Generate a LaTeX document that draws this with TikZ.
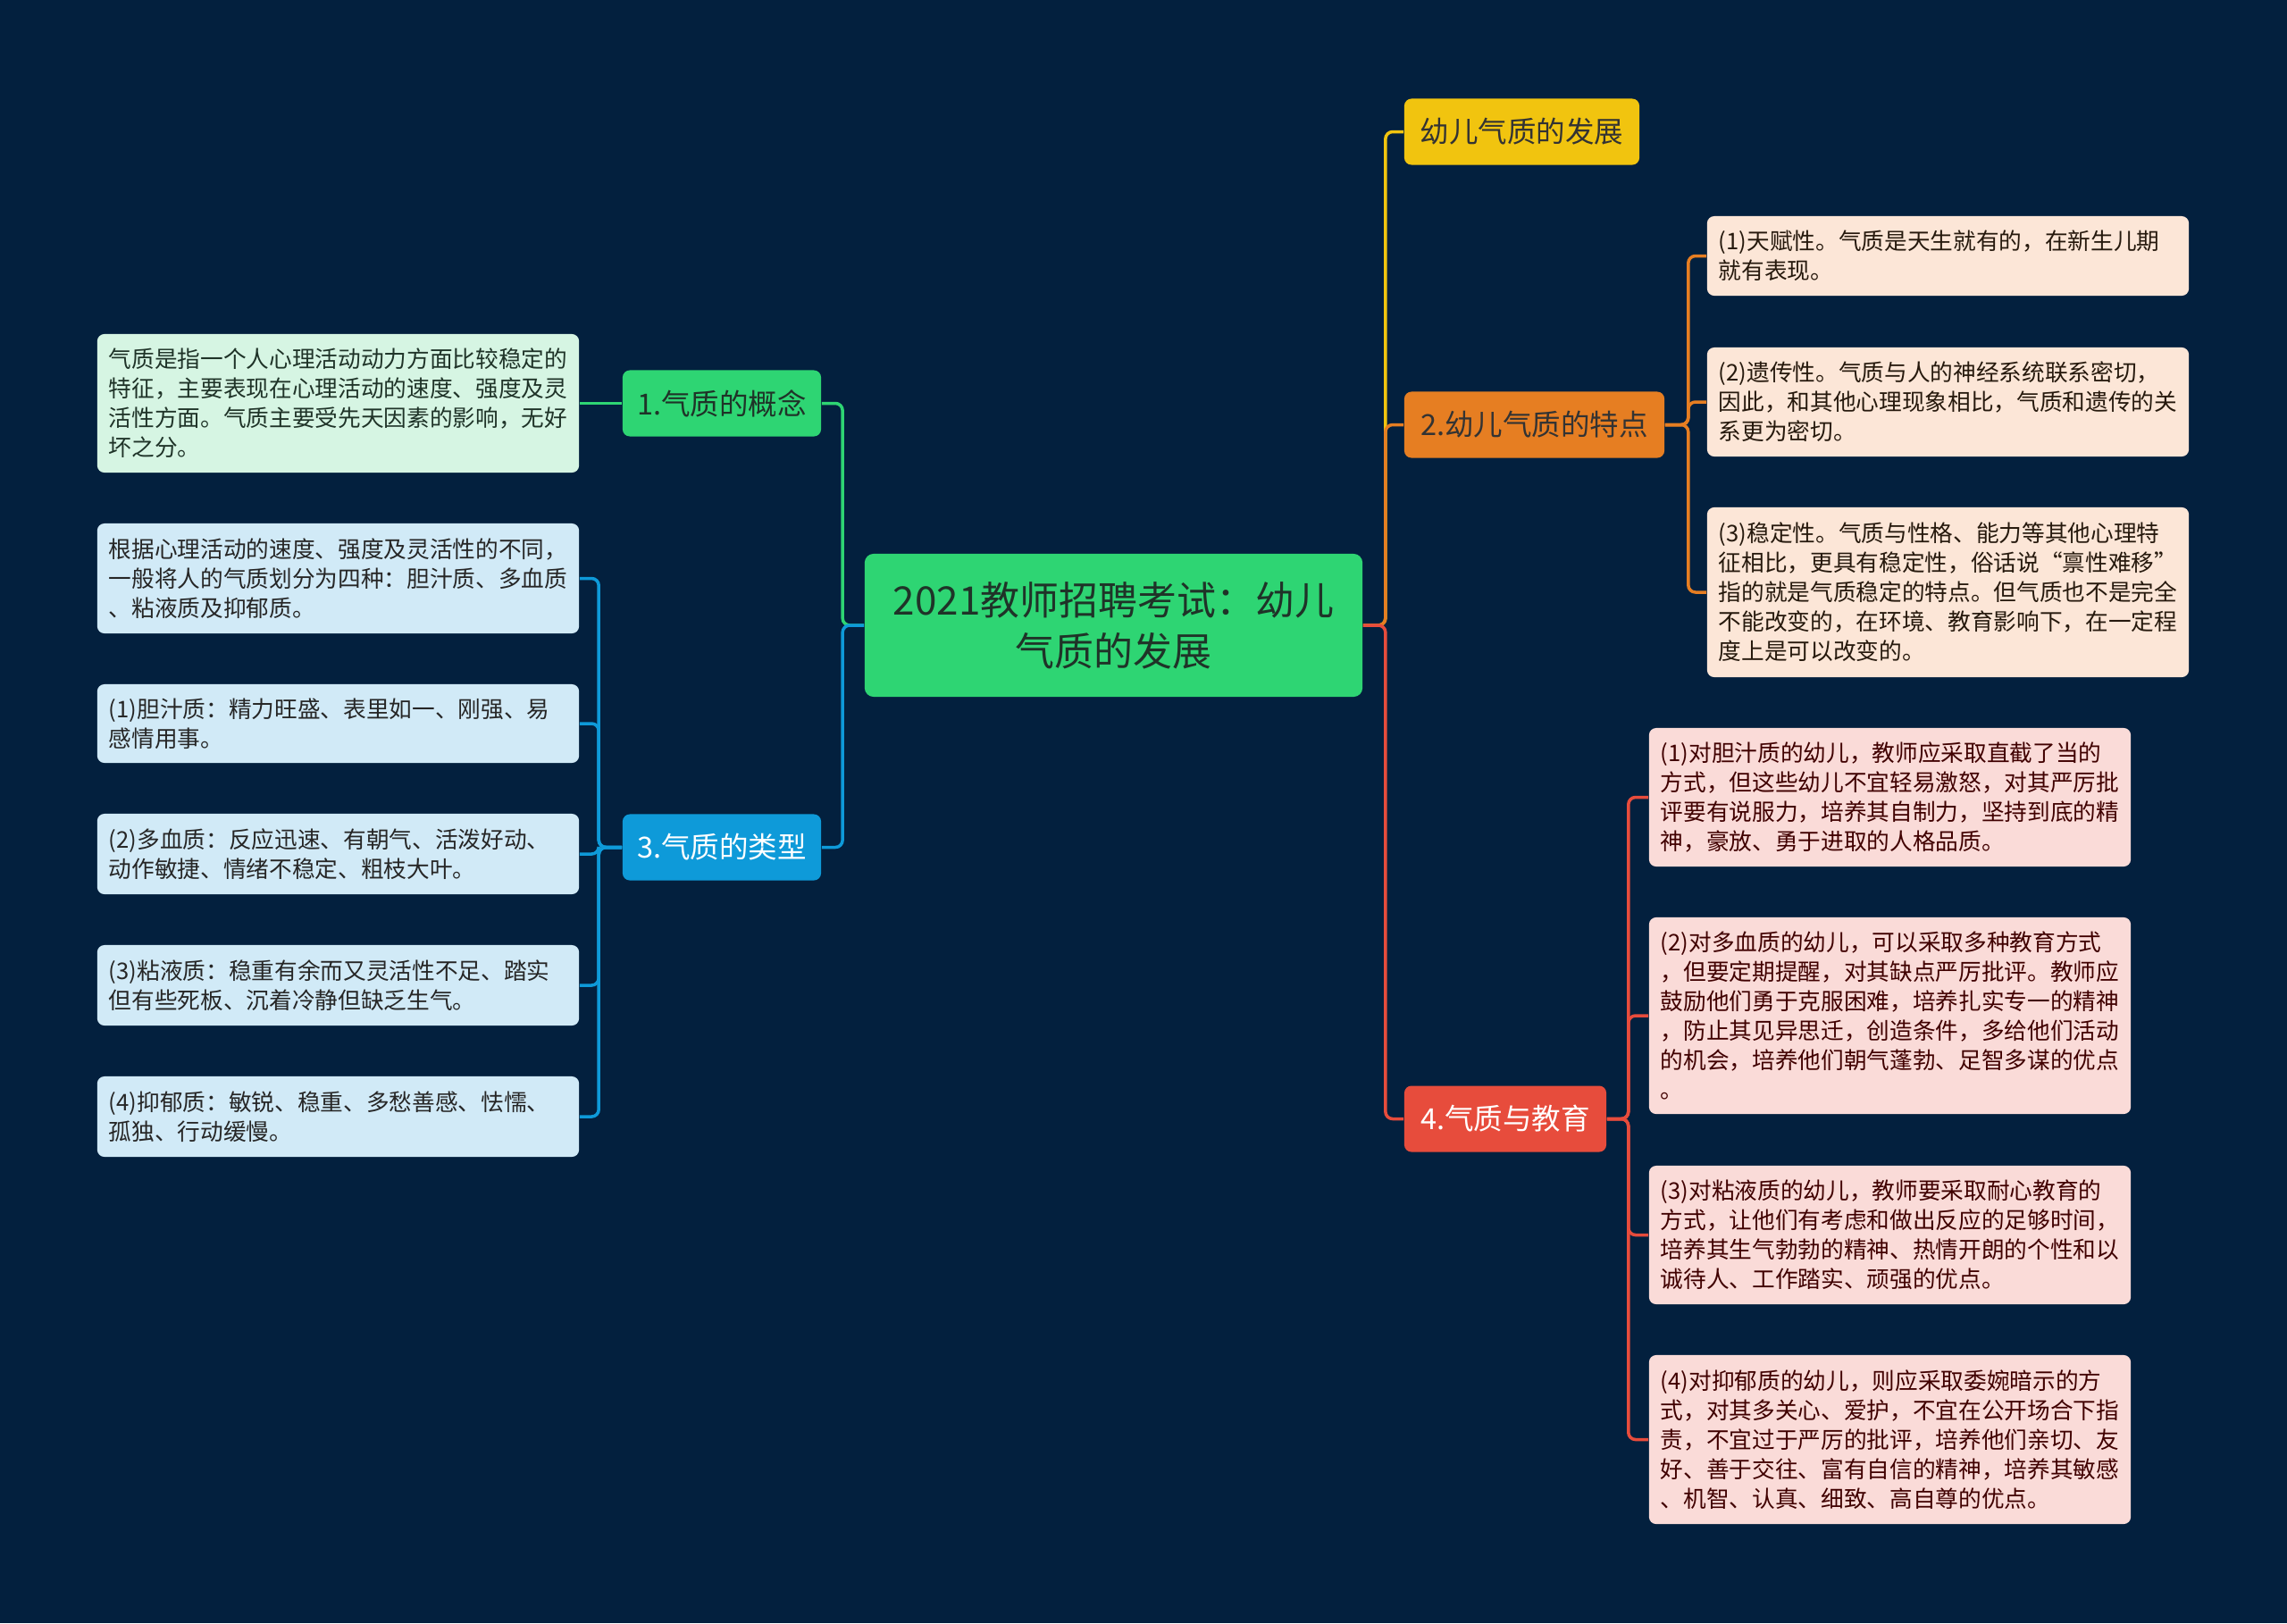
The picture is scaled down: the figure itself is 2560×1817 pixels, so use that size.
\documentclass[tikz,border=0pt]{standalone}
\usepackage{fontspec}
\setmainfont{Noto Sans CJK SC}
\usetikzlibrary{positioning,calc}
\definecolor{bgnavy}{HTML}{03203E}
\definecolor{rootgreen}{HTML}{2ED573}
\definecolor{topblue}{HTML}{0E9AD9}
\definecolor{topyellow}{HTML}{F1C40F}
\definecolor{toporange}{HTML}{E67E22}
\definecolor{topred}{HTML}{E74C3C}
\definecolor{leafgreen}{HTML}{D6F5E3}
\definecolor{leafblue}{HTML}{D1EAF7}
\definecolor{leafpeach}{HTML}{FCE6D7}
\definecolor{leafpink}{HTML}{FADBD8}
\definecolor{inkdark}{HTML}{1F3328}

\begin{document}
\begin{tikzpicture}[x=0.01cm,y=-0.01cm,
  rootbox/.style={fill=rootgreen,rounded corners=0.1cm,align=center,text=inkdark,
    minimum width=5.57cm,minimum height=1.6cm,
    font=\fontsize{12.5pt}{16.2pt}\selectfont},
  topbox/.style={rounded corners=0.08cm,align=center,minimum height=0.74cm,
    inner xsep=0.1cm,font=\fontsize{9.25pt}{11pt}\selectfont},
  leafbox/.style={rounded corners=0.08cm,align=left,text width=5.13cm,
    inner xsep=0.13cm,inner ysep=0.1cm,
    font=\fontsize{7.3pt}{9.4pt}\selectfont},
  link/.style={line width=1pt,rounded corners=0.08cm}]

  \fill[bgnavy] (0,0) rectangle (2560,1817);
  \useasboundingbox (0,0) rectangle (2560,1817);

  % Root
  \node[rootbox] (root) at (1246.5,700) {2021教师招聘考试：幼儿\\气质的发展};

  % Main branches
  \node[topbox,fill=rootgreen,text=inkdark,minimum width=2.22cm] (con) at (808,451.5) {1.气质的概念};
  \node[topbox,fill=topblue,text=white,minimum width=2.22cm] (typ) at (808,948.5) {3.气质的类型};
  \node[topbox,fill=topyellow,text=black!80,minimum width=2.63cm] (dev) at (1703.5,147.5) {幼儿气质的发展};
  \node[topbox,fill=toporange,text=black!80,minimum width=2.91cm] (feat) at (1717.5,475.5) {2.幼儿气质的特点};
  \node[topbox,fill=topred,text=white,minimum width=2.26cm] (edu) at (1685,1252.5) {4.气质与教育};

  % Concept leaf
  \node[leafbox,fill=leafgreen,text=inkdark,minimum height=1.55cm] (def) at (378.5,451.5)
    {气质是指一个人心理活动动力方面比较稳定的\\特征，主要表现在心理活动的速度、强度及灵\\活性方面。气质主要受先天因素的影响，无好\\坏之分。};

  % Type leaves
  \node[leafbox,fill=leafblue,text=black!85,minimum height=1.23cm] (t0) at (378.5,647.5)
    {根据心理活动的速度、强度及灵活性的不同，\\一般将人的气质划分为四种：胆汁质、多血质\\、粘液质及抑郁质。};
  \node[leafbox,fill=leafblue,text=black!85,minimum height=0.88cm] (t1) at (378.5,810)
    {(1)胆汁质：精力旺盛、表里如一、刚强、易\\感情用事。};
  \node[leafbox,fill=leafblue,text=black!85,minimum height=0.9cm] (t2) at (378.5,956)
    {(2)多血质：反应迅速、有朝气、活泼好动、\\动作敏捷、情绪不稳定、粗枝大叶。};
  \node[leafbox,fill=leafblue,text=black!85,minimum height=0.9cm] (t3) at (378.5,1103)
    {(3)粘液质：稳重有余而又灵活性不足、踏实\\但有些死板、沉着冷静但缺乏生气。};
  \node[leafbox,fill=leafblue,text=black!85,minimum height=0.9cm] (t4) at (378.5,1250)
    {(4)抑郁质：敏锐、稳重、多愁善感、怯懦、\\孤独、行动缓慢。};

  % Feature leaves
  \node[leafbox,fill=leafpeach,text=black!80!brown,minimum height=0.89cm] (f1) at (2180.5,286.5)
    {(1)天赋性。气质是天生就有的，在新生儿期\\就有表现。};
  \node[leafbox,fill=leafpeach,text=black!80!brown,minimum height=1.22cm] (f2) at (2180.5,450)
    {(2)遗传性。气质与人的神经系统联系密切，\\因此，和其他心理现象相比，气质和遗传的关\\系更为密切。};
  \node[leafbox,fill=leafpeach,text=black!80!brown,minimum height=1.9cm] (f3) at (2180.5,663)
    {(3)稳定性。气质与性格、能力等其他心理特\\征相比，更具有稳定性，俗话说“禀性难移”\\指的就是气质稳定的特点。但气质也不是完全\\不能改变的，在环境、教育影响下，在一定程\\度上是可以改变的。};

  % Education leaves
  \node[leafbox,fill=leafpink,text=black!75!red,minimum height=1.55cm] (e1) at (2115.5,892.5)
    {(1)对胆汁质的幼儿，教师应采取直截了当的\\方式，但这些幼儿不宜轻易激怒，对其严厉批\\评要有说服力，培养其自制力，坚持到底的精\\神，豪放、勇于进取的人格品质。};
  \node[leafbox,fill=leafpink,text=black!75!red,minimum height=2.2cm] (e2) at (2115.5,1137)
    {(2)对多血质的幼儿，可以采取多种教育方式\\，但要定期提醒，对其缺点严厉批评。教师应\\鼓励他们勇于克服困难，培养扎实专一的精神\\，防止其见异思迁，创造条件，多给他们活动\\的机会，培养他们朝气蓬勃、足智多谋的优点\\。};
  \node[leafbox,fill=leafpink,text=black!75!red,minimum height=1.55cm] (e3) at (2115.5,1382.5)
    {(3)对粘液质的幼儿，教师要采取耐心教育的\\方式，让他们有考虑和做出反应的足够时间，\\培养其生气勃勃的精神、热情开朗的个性和以\\诚待人、工作踏实、顽强的优点。};
  \node[leafbox,fill=leafpink,text=black!75!red,minimum height=1.89cm] (e4) at (2115.5,1611.5)
    {(4)对抑郁质的幼儿，则应采取委婉暗示的方\\式，对其多关心、爱护，不宜在公开场合下指\\责，不宜过于严厉的批评，培养他们亲切、友\\好、善于交往、富有自信的精神，培养其敏感\\、机智、认真、细致、高自尊的优点。};

  % Links from root
  \draw[link,rootgreen] (root.west) -- ++(-24,0) |- (con.east);
  \draw[link,topblue] (root.west) -- ++(-24,0) |- (typ.east);
  \draw[link,topyellow] (root.east) -- ++(25,0) |- (dev.west);
  \draw[link,toporange] (root.east) -- ++(25,0) |- (feat.west);
  \draw[link,topred] (root.east) -- ++(25,0) |- (edu.west);

  % Links to leaves
  \draw[link,rootgreen] (con.west) -- (def.east);
  \foreach \t in {t0,t1,t2,t3,t4}
    \draw[link,topblue] (typ.west) -- ++(-26,0) |- (\t.east);
  \foreach \f in {f1,f2,f3}
    \draw[link,toporange] (feat.east) -- ++(26,0) |- (\f.west);
  \foreach \e in {e1,e2,e3,e4}
    \draw[link,topred] (edu.east) -- ++(24,0) |- (\e.west);
\end{tikzpicture}
\end{document}
